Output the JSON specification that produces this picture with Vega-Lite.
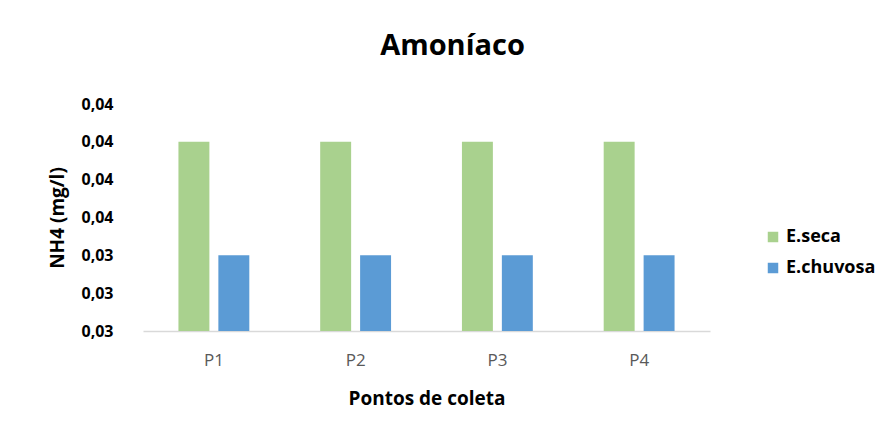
{
  "$schema": "https://vega.github.io/schema/vega-lite/v6.json",
  "width": 567,
  "height": 227,
  "autosize": {"type": "none"},
  "padding": {"left": 143, "top": 104, "right": 169, "bottom": 106},
  "background": "white",
  "title": {
    "text": "Amoníaco",
    "font": "Open Sans",
    "fontSize": 29,
    "fontWeight": "bold",
    "color": "#000000",
    "anchor": "middle",
    "dx": 26,
    "offset": 35
  },
  "data": {
    "values": [
      {"ponto": "P1", "serie": "E.seca", "valor": 0.040},
      {"ponto": "P1", "serie": "E.chuvosa", "valor": 0.034},
      {"ponto": "P2", "serie": "E.seca", "valor": 0.040},
      {"ponto": "P2", "serie": "E.chuvosa", "valor": 0.034},
      {"ponto": "P3", "serie": "E.seca", "valor": 0.040},
      {"ponto": "P3", "serie": "E.chuvosa", "valor": 0.034},
      {"ponto": "P4", "serie": "E.seca", "valor": 0.040},
      {"ponto": "P4", "serie": "E.chuvosa", "valor": 0.034}
    ]
  },
  "mark": {"type": "bar", "clip": true},
  "encoding": {
    "x": {
      "field": "ponto",
      "type": "nominal",
      "scale": {"paddingInner": 0.5, "paddingOuter": 0.25},
      "axis": {
        "title": "Pontos de coleta",
        "titleFont": "Open Sans",
        "titleFontSize": 19,
        "titleFontWeight": "bold",
        "titleColor": "#000000",
        "titlePadding": 21,
        "labelAngle": 0,
        "labelFont": "Open Sans",
        "labelFontSize": 17,
        "labelColor": "#595959",
        "labelPadding": 21,
        "ticks": false,
        "domainColor": "#d9d9d9",
        "domainWidth": 1.5,
        "grid": false
      }
    },
    "xOffset": {
      "field": "serie",
      "type": "nominal",
      "sort": ["E.seca", "E.chuvosa"],
      "scale": {"paddingInner": 0.225, "paddingOuter": 0}
    },
    "y": {
      "field": "valor",
      "type": "quantitative",
      "scale": {"domain": [0.03, 0.042], "zero": false, "nice": false},
      "axis": {
        "values": [0.03, 0.032, 0.034, 0.036, 0.038, 0.04, 0.042],
        "labelExpr": "replace(format(datum.value, '.2f'), '.', ',')",
        "title": "NH4 (mg/l)",
        "titleFont": "Open Sans",
        "titleFontSize": 19,
        "titleFontWeight": "bold",
        "titleColor": "#000000",
        "titlePadding": 13,
        "labelFont": "Open Sans",
        "labelFontSize": 16,
        "labelFontWeight": "bold",
        "labelColor": "#000000",
        "labelPadding": 30,
        "ticks": false,
        "domain": false,
        "grid": false
      }
    },
    "color": {
      "field": "serie",
      "type": "nominal",
      "sort": ["E.seca", "E.chuvosa"],
      "scale": {"domain": ["E.seca", "E.chuvosa"], "range": ["#A9D18E", "#5B9BD5"]},
      "legend": {
        "title": null,
        "orient": "none",
        "legendX": 621,
        "legendY": 124,
        "symbolType": "square",
        "symbolSize": 110,
        "symbolStrokeWidth": 0,
        "labelFont": "Open Sans",
        "labelFontSize": 18,
        "labelFontWeight": "bold",
        "labelColor": "#000000",
        "rowPadding": 13
      }
    }
  },
  "config": {"view": {"stroke": null}}
}
